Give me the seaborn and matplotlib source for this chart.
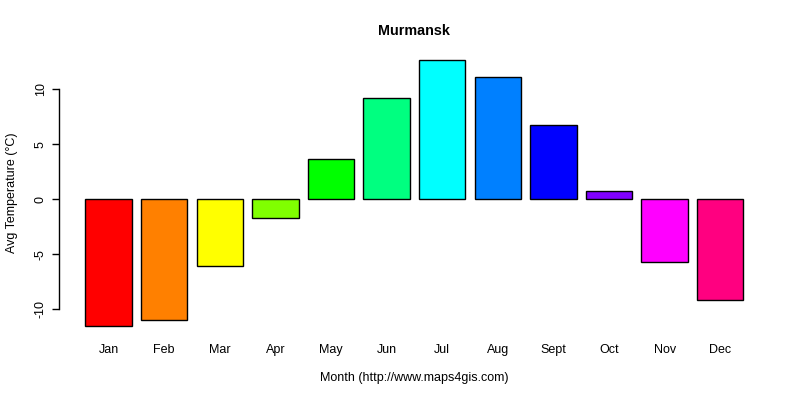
import matplotlib
matplotlib.use("Agg")
import matplotlib.pyplot as plt
import seaborn as sns
import pandas as pd

months = ["Jan", "Feb", "Mar", "Apr", "May", "Jun", "Jul", "Aug", "Sept", "Oct", "Nov", "Dec"]
temps = [-11.5, -11.0, -6.1, -1.7, 3.7, 9.2, 12.7, 11.1, 6.8, 0.8, -5.7, -9.2]
colors = ["#FF0000", "#FF8000", "#FFFF00", "#80FF00", "#00FF00", "#00FF80",
          "#00FFFF", "#0080FF", "#0000FF", "#8000FF", "#FF00FF", "#FF0080"]
yticks = [-10, -5, 0, 5, 10]
title = "Murmansk"
xlabel = "Month (http://www.maps4gis.com)"
ylabel = "Avg Temperature (°C)"

sns.set_style("white")
plt.rcParams["font.family"] = ["Liberation Sans", "DejaVu Sans"]
plt.rcParams["text.color"] = "black"
plt.rcParams["axes.labelcolor"] = "black"
plt.rcParams["xtick.color"] = "black"
plt.rcParams["ytick.color"] = "black"

df = pd.DataFrame({"month": months, "temp": temps})

fig = plt.figure(figsize=(8, 4), dpi=100)
ax = fig.add_axes([0.074, 0.1575, 0.888, 0.72])

sns.barplot(data=df, x="month", y="temp", hue="month", palette=colors,
            order=months, hue_order=months, legend=False, width=0.833,
            edgecolor="black", linewidth=1.0, saturation=1, ax=ax)

ax.set_xlim(-0.888, 11.888)
ax.set_ylim(-12.52, 13.67)

for s in ["top", "right", "bottom"]:
    ax.spines[s].set_visible(False)
ax.spines["left"].set_bounds(-10, 10)
ax.spines["left"].set_color("black")
ax.spines["left"].set_linewidth(1.0)

ax.set_yticks(yticks)
ax.set_yticklabels([str(v) for v in yticks], rotation=90, va="center")
ax.tick_params(axis="y", left=True, length=5, width=1, color="black",
               labelcolor="black", pad=4, labelsize=9)
ax.tick_params(axis="x", bottom=False, length=0, pad=5, labelsize=9,
               labelcolor="black")

ax.set_xlabel(xlabel, fontsize=9, color="black")
ax.xaxis.set_label_coords(0.5, -0.141)
ax.xaxis.label.set_va("center")
ax.set_ylabel(ylabel, fontsize=9, color="black")
ax.yaxis.set_label_coords(-0.066, 0.5)
ax.yaxis.label.set_va("center")

fig.text(0.517, 1 - 31 / 400, title, ha="center", va="center",
         fontsize=10.4, fontweight="bold", color="black")

fig.savefig("out.png", dpi=100)
